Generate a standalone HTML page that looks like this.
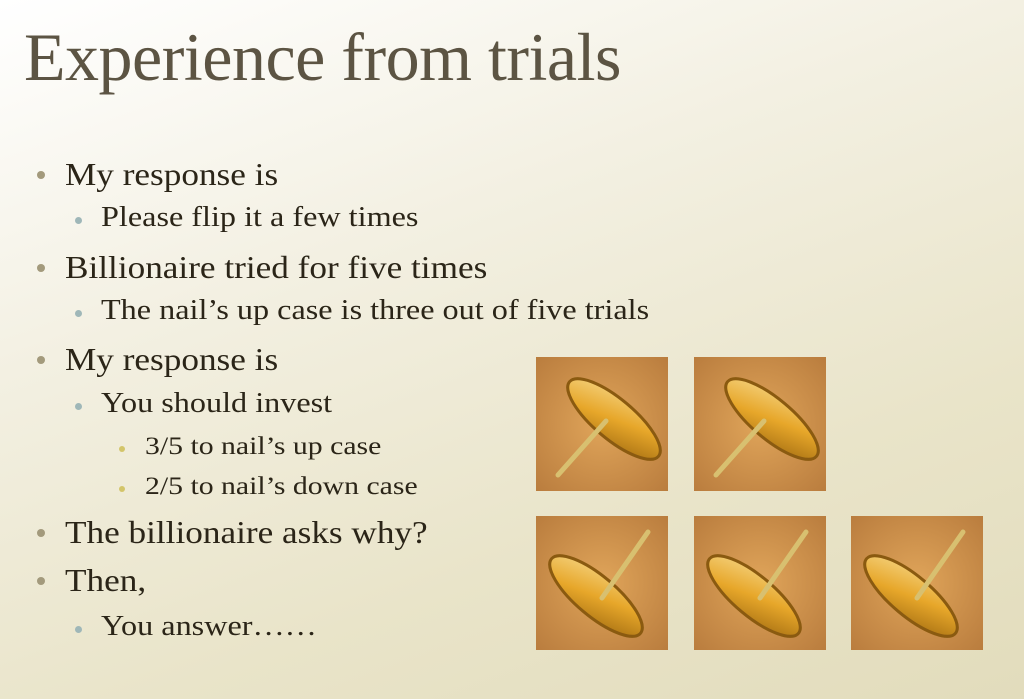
<!DOCTYPE html>
<html><head><meta charset="utf-8"><style>
html,body{margin:0;padding:0}
body{width:1024px;height:699px;overflow:hidden;position:relative;
background:linear-gradient(160deg,#ffffff 0%,#f3f0e2 35%,#e9e4c9 70%,#e2dcbc 100%);
font-family:"Liberation Serif",serif;}
.t{position:absolute;white-space:nowrap;color:#2b2518;transform-origin:0 0}
#title{left:24px;top:18px;font-size:68px;color:#5c5443;letter-spacing:-0.5px}
.l1{font-size:32px;transform:scaleX(1.10)}
.l2{font-size:28px;transform:scaleX(1.15)}
.l3{font-size:25px;transform:scaleX(1.19)}
.b{position:absolute;border-radius:50%}
.tack{position:absolute;width:132px;height:134px}
</style></head><body>
<div id="title" class="t">Experience from trials</div>

<div class="b" style="left:37px;top:171px;width:8px;height:8px;background:#a39a7c"></div>
<div class="t l1" style="left:65px;top:156px">My response is</div>
<div class="b" style="left:75px;top:217px;width:7px;height:7px;background:#9fb7b8"></div>
<div class="t l2" style="left:101px;top:202px">Please flip it a few times</div>
<div class="b" style="left:37px;top:264px;width:8px;height:8px;background:#a39a7c"></div>
<div class="t l1" style="left:65px;top:249px">Billionaire tried for five times</div>
<div class="b" style="left:75px;top:310px;width:7px;height:7px;background:#9fb7b8"></div>
<div class="t l2" style="left:101px;top:295px">The nail’s up case is three out of five trials</div>
<div class="b" style="left:37px;top:356px;width:8px;height:8px;background:#a39a7c"></div>
<div class="t l1" style="left:65px;top:341px">My response is</div>
<div class="b" style="left:75px;top:403px;width:7px;height:7px;background:#9fb7b8"></div>
<div class="t l2" style="left:101px;top:388px">You should invest</div>
<div class="b" style="left:119px;top:446px;width:6px;height:6px;background:#d3c56a"></div>
<div class="t l3" style="left:145px;top:433px">3/5 to nail’s up case</div>
<div class="b" style="left:119px;top:486px;width:6px;height:6px;background:#d3c56a"></div>
<div class="t l3" style="left:145px;top:473px">2/5 to nail’s down case</div>
<div class="b" style="left:37px;top:529px;width:8px;height:8px;background:#a39a7c"></div>
<div class="t l1" style="left:65px;top:514px">The billionaire asks why?</div>
<div class="b" style="left:37px;top:577px;width:8px;height:8px;background:#a39a7c"></div>
<div class="t l1" style="left:65px;top:562px">Then,</div>
<div class="b" style="left:75px;top:626px;width:7px;height:7px;background:#9fb7b8"></div>
<div class="t l2" style="left:101px;top:611px">You answer……</div>

<svg width="0" height="0" style="position:absolute"><defs>
<radialGradient id="bg" cx="0.5" cy="0.5" r="0.75"><stop offset="0" stop-color="#e0a55a"/><stop offset="1" stop-color="#b77a3c"/></radialGradient>
<linearGradient id="gold" x1="0" y1="0" x2="1" y2="1"><stop offset="0" stop-color="#f6d88a"/><stop offset="0.5" stop-color="#e7a72a"/><stop offset="1" stop-color="#a06a10"/></linearGradient>
</defs></svg>

<svg class="tack" style="left:536px;top:357px" viewBox="0 0 132 134">
<rect width="132" height="134" fill="url(#bg)"/>
<ellipse cx="78" cy="62" rx="58" ry="20" transform="rotate(40 78 62)" fill="url(#gold)" stroke="#8a5a10" stroke-width="3"/>
<line x1="70" y1="64" x2="22" y2="118" stroke="#d8c070" stroke-width="5" stroke-linecap="round"/>
</svg>
<svg class="tack" style="left:694px;top:357px" viewBox="0 0 132 134">
<rect width="132" height="134" fill="url(#bg)"/>
<ellipse cx="78" cy="62" rx="58" ry="20" transform="rotate(40 78 62)" fill="url(#gold)" stroke="#8a5a10" stroke-width="3"/>
<line x1="70" y1="64" x2="22" y2="118" stroke="#d8c070" stroke-width="5" stroke-linecap="round"/>
</svg>
<svg class="tack" style="left:536px;top:516px" viewBox="0 0 132 134">
<rect width="132" height="134" fill="url(#bg)"/>
<ellipse cx="60" cy="80" rx="58" ry="20" transform="rotate(40 60 80)" fill="url(#gold)" stroke="#8a5a10" stroke-width="3"/>
<line x1="66" y1="82" x2="112" y2="16" stroke="#d8c070" stroke-width="5" stroke-linecap="round"/>
</svg>
<svg class="tack" style="left:694px;top:516px" viewBox="0 0 132 134">
<rect width="132" height="134" fill="url(#bg)"/>
<ellipse cx="60" cy="80" rx="58" ry="20" transform="rotate(40 60 80)" fill="url(#gold)" stroke="#8a5a10" stroke-width="3"/>
<line x1="66" y1="82" x2="112" y2="16" stroke="#d8c070" stroke-width="5" stroke-linecap="round"/>
</svg>
<svg class="tack" style="left:851px;top:516px" viewBox="0 0 132 134">
<rect width="132" height="134" fill="url(#bg)"/>
<ellipse cx="60" cy="80" rx="58" ry="20" transform="rotate(40 60 80)" fill="url(#gold)" stroke="#8a5a10" stroke-width="3"/>
<line x1="66" y1="82" x2="112" y2="16" stroke="#d8c070" stroke-width="5" stroke-linecap="round"/>
</svg>
</body></html>
